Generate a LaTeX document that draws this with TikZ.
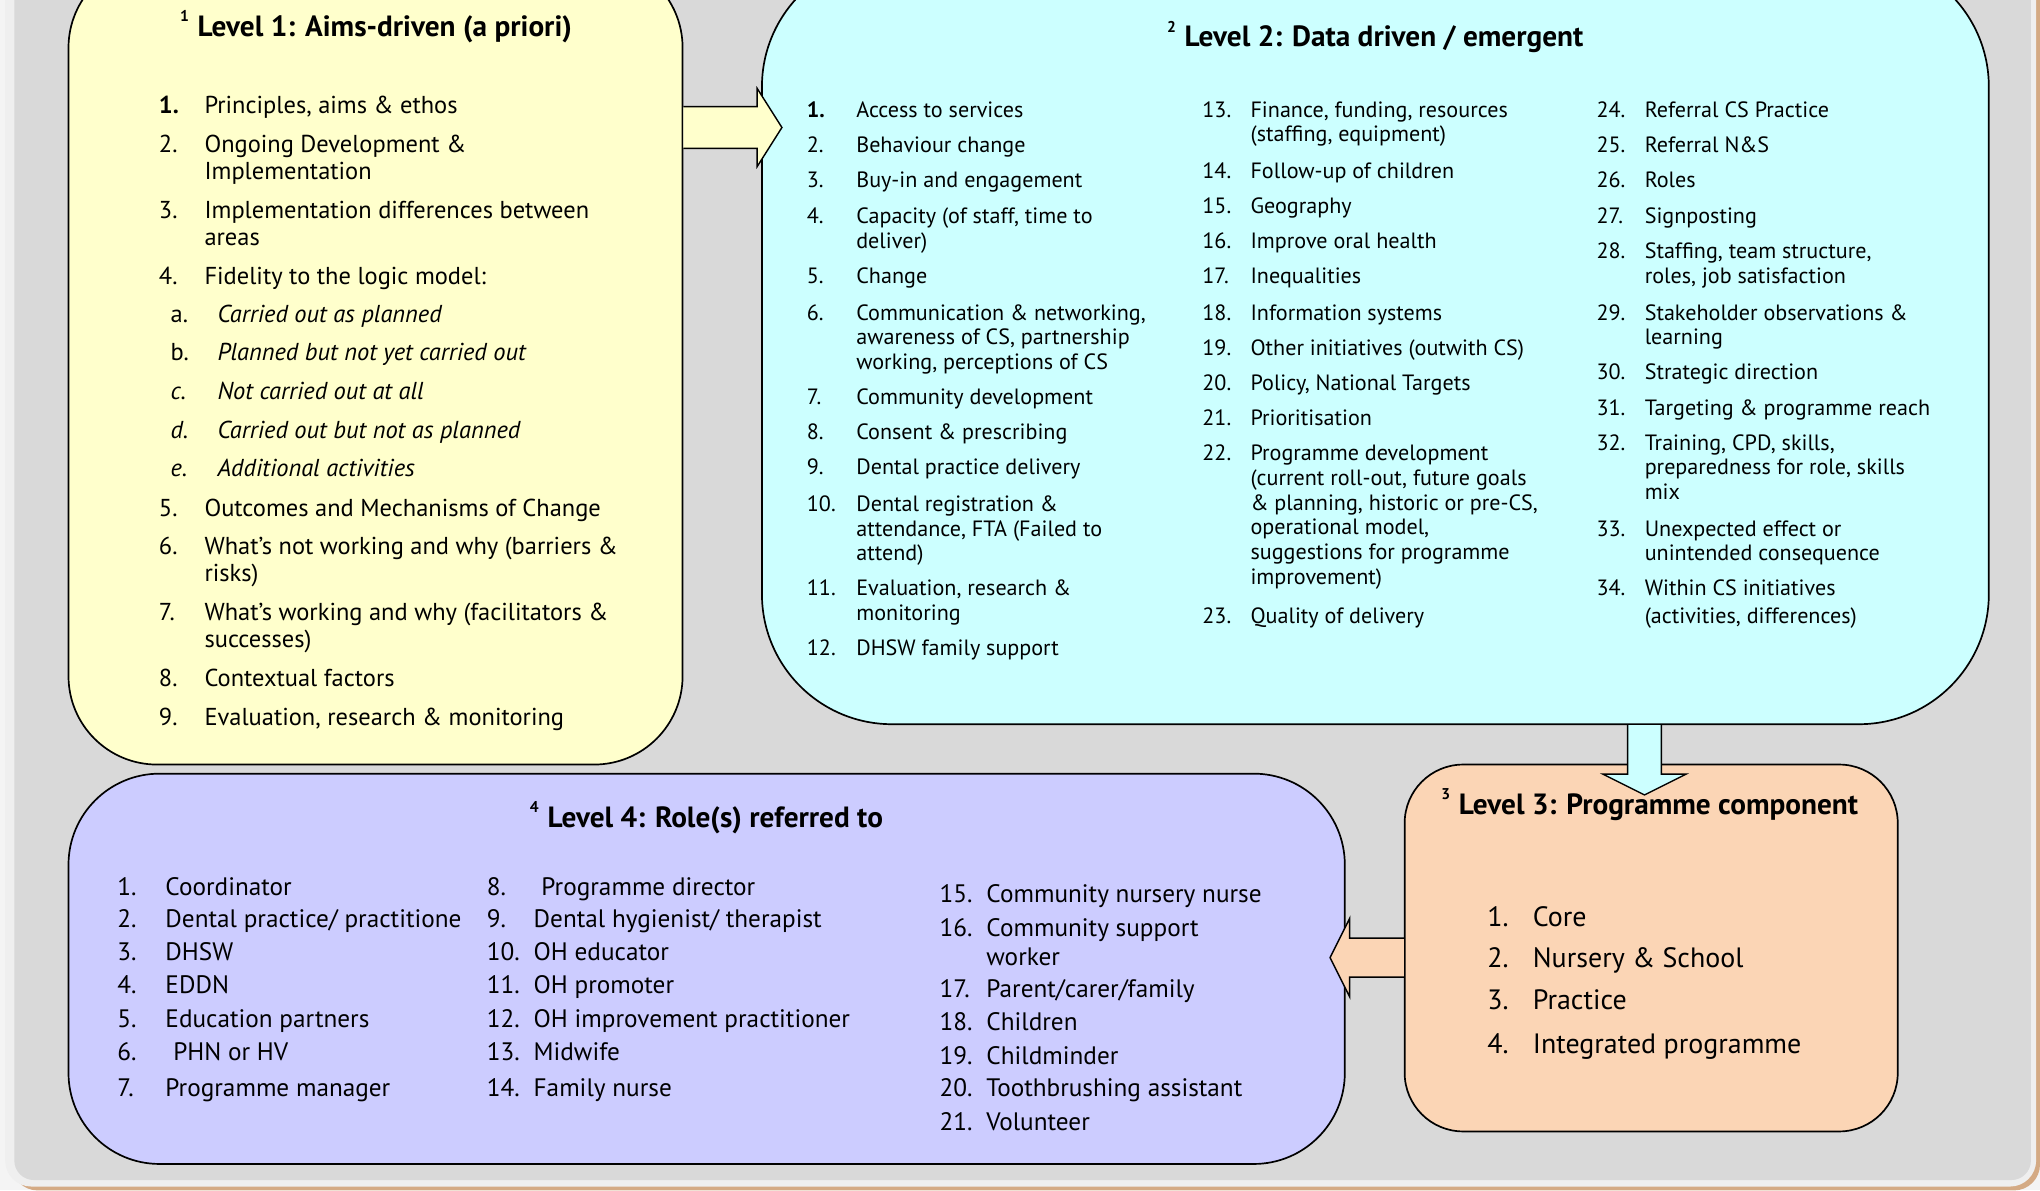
\documentclass[tikz,border=0pt]{standalone}
\usepackage{fontspec}
\setmainfont{PT Sans}
\usetikzlibrary{calc}

\definecolor{pagegray}{HTML}{F4F4F4}
\definecolor{bggray}{HTML}{D9D9D9}
\definecolor{rimgray}{HTML}{EFEFEF}
\definecolor{shadowtan}{HTML}{D4AA84}
\definecolor{lvone}{HTML}{FFFFCC}
\definecolor{lvtwo}{HTML}{CCFFFF}
\definecolor{lvthree}{HTML}{FBD5B5}
\definecolor{lvfour}{HTML}{CCCCFF}

\tikzset{
  levelbox/.style={draw=black, line width=1.3pt, anchor=north west, inner sep=0pt},
  leveltitle/.style={font=\fontsize{22.5}{26}\selectfont\bfseries, inner sep=0pt, anchor=base},
  txtone/.style={font=\fontsize{18.8}{21}\selectfont, inner sep=0pt, anchor=base west},
  txttwo/.style={font=\fontsize{17}{19}\selectfont, inner sep=0pt, anchor=base west},
  txtthree/.style={font=\fontsize{21.5}{25}\selectfont, inner sep=0pt, anchor=base west},
  txtfour/.style={font=\fontsize{19.4}{22}\selectfont, inner sep=0pt, anchor=base west},
  blockarrow/.style={draw=black, line width=1.1pt, line join=miter},
}

% lines of one entry, the first line carrying the baseline
\newcommand\stack[1]{\begin{tabular}[t]{@{}l@{}}#1\end{tabular}}

% one numbered entry: style, name, x of number, x of text, baseline, number, text
\newcommand\entry[7]{%
  \node[#1] (#2n) at (#3,#5) {#6};
  \node[#1] (#2) at (#4,#5) {\stack{#7}};}

% superscript level mark in front of a title
\newcommand\lvmark[1]{\raisebox{0.5em}{\fontsize{12}{12}\selectfont #1}\hspace{0.3em}}

% broad arrow from #1 to #2: shaft half width #3, head half width #4, head length #5
\newcommand\broadarrow[6]{%
  \coordinate (#6h) at ($(#2)!#5!(#1)$);
  \draw[blockarrow, fill=#6col]
    ($(#1)!#3!90:(#2)$) -- ($(#6h)!#3!90:(#2)$) -- ($(#6h)!#4!90:(#2)$) -- (#2)
    -- ($(#6h)!#4!-90:(#2)$) -- ($(#6h)!#3!-90:(#2)$) -- ($(#1)!#3!-90:(#2)$);}

\begin{document}
\begin{tikzpicture}[x=1pt, y=-1pt]
\useasboundingbox (0,0) rectangle (1568,915);

% page frame
\fill[pagegray] (0,0) rectangle (1568,915);
\fill[shadowtan, rounded corners=20pt] (9,-60) rectangle (1568,915);
\fill[rimgray, rounded corners=20pt] (4,-60) rectangle (1565,912);
\fill[bggray, rounded corners=15pt] (11,-60) rectangle (1561,907);

% the four level boxes
\node[levelbox, fill=lvone, minimum width=472pt, minimum height=619pt, rounded corners=68pt] (l1) at (52,-32) {};
\node[levelbox, fill=lvtwo, minimum width=943pt, minimum height=590pt, rounded corners=100pt] (l2) at (585,-34) {};
\node[levelbox, fill=lvthree, minimum width=379pt, minimum height=282pt, rounded corners=45pt] (l3) at (1079,587) {};
\node[levelbox, fill=lvfour, minimum width=981pt, minimum height=300pt, rounded corners=70pt] (l4) at (52,594) {};

% broad arrows between the levels
\colorlet{aonecol}{lvone}
\colorlet{atwocol}{lvtwo}
\colorlet{athreecol}{lvthree}
\coordinate (aones) at (l1.east |- 0,98);
\coordinate (aonee) at ($(l2.west |- 0,98)+(16,0)$);
\broadarrow{aones}{aonee}{16pt}{30pt}{19pt}{aone}
\coordinate (atwos) at (l2.south -| 1264,0);
\coordinate (atwoe) at ($(l3.north -| 1264,0)+(0,24)$);
\broadarrow{atwos}{atwoe}{13pt}{32pt}{16pt}{atwo}
\coordinate (athrees) at (l3.west |- 0,736);
\coordinate (athreee) at ($(l4.east |- 0,736)+(-12,0)$);
\broadarrow{athrees}{athreee}{15pt}{30pt}{15pt}{athree}

\begin{scope}[yshift=-1pt]
% titles
\node[leveltitle] (l1t) at (289,27) {\lvmark{1}Level 1: Aims-driven (a priori)};
\node[leveltitle] (l2t) at (1057,35) {\lvmark{2}Level 2: Data driven / emergent};
\node[leveltitle] (l3t) at (1268,625) {\lvmark{3}Level 3: Programme component};
\node[leveltitle] (l4t) at (543,635) {\lvmark{4}Level 4: Role(s) referred to};

% Level 1 entries
\entry{txtone}{o1}{122}{157}{86}{\bfseries 1.}{Principles, aims \& ethos}
\entry{txtone}{o2}{122}{157}{116}{2.}{Ongoing Development \&\\Implementation}
\entry{txtone}{o3}{122}{157}{167}{3.}{Implementation differences between\\areas}
\entry{txtone}{o4}{122}{157}{218}{4.}{Fidelity to the logic model:}
\entry{txtone}{oa}{131}{167}{247}{a.}{\itshape Carried out as planned}
\entry{txtone}{ob}{131}{167}{276}{b.}{\itshape Planned but not yet carried out}
\entry{txtone}{oc}{131}{167}{306}{\itshape c.}{\itshape Not carried out at all}
\entry{txtone}{od}{131}{167}{336}{\itshape d.}{\itshape Carried out but not as planned}
\entry{txtone}{oe}{131}{167}{365}{\itshape e.}{\itshape Additional activities}
\entry{txtone}{o5}{122}{157}{396}{5.}{Outcomes and Mechanisms of Change}
\entry{txtone}{o6}{122}{157}{425}{6.}{What’s not working and why (barriers \&\\risks)}
\entry{txtone}{o7}{122}{157}{476}{7.}{What’s working and why (facilitators \&\\successes)}
\entry{txtone}{o8}{122}{157}{527}{8.}{Contextual factors}
\entry{txtone}{o9}{122}{157}{557}{9.}{Evaluation, research \& monitoring}

% Level 2 entries, first column
\entry{txttwo}{t1}{620}{658}{89}{\bfseries 1.}{Access to services}
\entry{txttwo}{t2}{620}{658}{116}{2.}{Behaviour change}
\entry{txttwo}{t3}{620}{658}{143}{3.}{Buy-in and engagement}
\entry{txttwo}{t4}{620}{658}{171}{4.}{Capacity (of staff, time to\\deliver)}
\entry{txttwo}{t5}{620}{658}{217}{5.}{Change}
\entry{txttwo}{t6}{620}{658}{245}{6.}{Communication \& networking,\\awareness of CS, partnership\\working, perceptions of CS}
\entry{txttwo}{t7}{620}{658}{310}{7.}{Community development}
\entry{txttwo}{t8}{620}{658}{337}{8.}{Consent \& prescribing}
\entry{txttwo}{t9}{620}{658}{364}{9.}{Dental practice delivery}
\entry{txttwo}{t10}{620}{658}{392}{10.}{Dental registration \&\\attendance, FTA (Failed to\\attend)}
\entry{txttwo}{t11}{620}{658}{457}{11.}{Evaluation, research \&\\monitoring}
\entry{txttwo}{t12}{620}{658}{503}{12.}{DHSW family support}

% Level 2 entries, second column
\entry{txttwo}{t13}{924}{961}{89}{13.}{Finance, funding, resources\\(staffing, equipment)}
\entry{txttwo}{t14}{924}{961}{136}{14.}{Follow-up of children}
\entry{txttwo}{t15}{924}{961}{163}{15.}{Geography}
\entry{txttwo}{t16}{924}{961}{190}{16.}{Improve oral health}
\entry{txttwo}{t17}{924}{961}{217}{17.}{Inequalities}
\entry{txttwo}{t18}{924}{961}{245}{18.}{Information systems}
\entry{txttwo}{t19}{924}{961}{272}{19.}{Other initiatives (outwith CS)}
\entry{txttwo}{t20}{924}{961}{299}{20.}{Policy, National Targets}
\entry{txttwo}{t21}{924}{961}{326}{21.}{Prioritisation}
\entry{txttwo}{t22}{924}{961}{353}{22.}{Programme development\\(current roll-out, future goals\\\& planning, historic or pre-CS,\\operational model,\\suggestions for programme\\improvement)}
\entry{txttwo}{t23}{924}{961}{478}{23.}{Quality of delivery}

% Level 2 entries, third column
\entry{txttwo}{t24}{1227}{1264}{89}{24.}{Referral CS Practice}
\entry{txttwo}{t25}{1227}{1264}{116}{25.}{Referral N\&S}
\entry{txttwo}{t26}{1227}{1264}{143}{26.}{Roles}
\entry{txttwo}{t27}{1227}{1264}{171}{27.}{Signposting}
\entry{txttwo}{t28}{1227}{1264}{198}{28.}{Staffing, team structure,\\roles, job satisfaction}
\entry{txttwo}{t29}{1227}{1264}{245}{29.}{Stakeholder observations \&\\learning}
\entry{txttwo}{t30}{1227}{1264}{291}{30.}{Strategic direction}
\entry{txttwo}{t31}{1227}{1264}{318}{31.}{Targeting \& programme reach}
\entry{txttwo}{t32}{1227}{1264}{345}{32.}{Training, CPD, skills,\\preparedness for role, skills\\mix}
\entry{txttwo}{t33}{1227}{1264}{411}{33.}{Unexpected effect or\\unintended consequence}
\entry{txttwo}{t34}{1227}{1264}{457}{34.}{Within CS initiatives\\[2pt](activities, differences)}

% Level 3 entries
\entry{txtthree}{h1}{1143}{1178}{711}{1.}{Core}
\entry{txtthree}{h2}{1143}{1178}{743}{2.}{Nursery \& School}
\entry{txtthree}{h3}{1143}{1178}{775}{3.}{Practice}
\entry{txtthree}{h4}{1143}{1178}{809}{4.}{Integrated programme}

% Level 4 entries, first column
\entry{txtfour}{f1}{90}{127}{687}{1.}{Coordinator}
\begin{scope}
  \clip (60,680) rectangle (354,730);
  \entry{txtfour}{f2}{90}{127}{712}{2.}{Dental practice/ practitioner}
\end{scope}
\entry{txtfour}{f3}{90}{127}{737}{3.}{DHSW}
\entry{txtfour}{f4}{90}{127}{763}{4.}{EDDN}
\entry{txtfour}{f5}{90}{127}{789}{5.}{Education partners}
\entry{txtfour}{f6}{90}{133}{814}{6.}{PHN or HV}
\entry{txtfour}{f7}{90}{127}{842}{7.}{Programme manager}

% Level 4 entries, second column
\entry{txtfour}{f8}{374}{416}{687}{8.}{Programme director}
\entry{txtfour}{f9}{374}{410}{712}{9.}{Dental hygienist/ therapist}
\entry{txtfour}{f10}{374}{410}{737}{10.}{OH educator}
\entry{txtfour}{f11}{374}{410}{763}{11.}{OH promoter}
\entry{txtfour}{f12}{374}{410}{789}{12.}{OH improvement practitioner}
\entry{txtfour}{f13}{374}{410}{814}{13.}{Midwife}
\entry{txtfour}{f14}{374}{410}{842}{14.}{Family nurse}

% Level 4 entries, third column
\entry{txtfour}{f15}{722}{758}{693}{15.}{Community nursery nurse}
\entry{txtfour}{f16}{722}{758}{719}{16.}{Community support\\worker}
\entry{txtfour}{f17}{722}{758}{766}{17.}{Parent/carer/family}
\entry{txtfour}{f18}{722}{758}{791}{18.}{Children}
\entry{txtfour}{f19}{722}{758}{817}{19.}{Childminder}
\entry{txtfour}{f20}{722}{758}{842}{20.}{Toothbrushing assistant}
\entry{txtfour}{f21}{722}{758}{868}{21.}{Volunteer}
\end{scope}
\end{tikzpicture}
\end{document}
